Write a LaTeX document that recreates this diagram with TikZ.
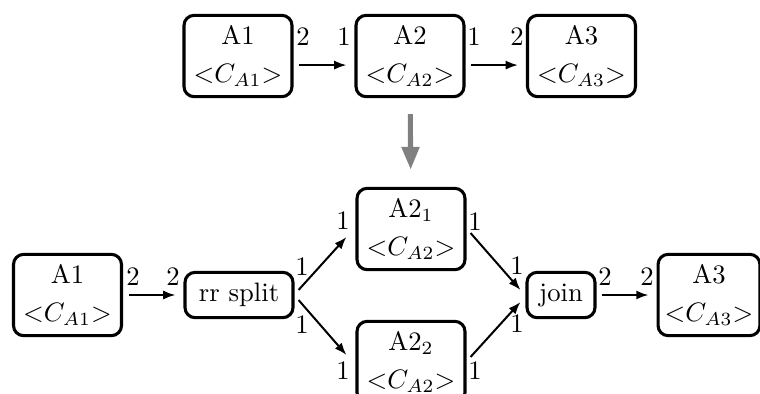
\documentclass[tikz,border=0pt]{standalone}
\usetikzlibrary{arrows.meta}
\begin{document}
\begin{tikzpicture}[x=0.375pt,y=-0.375pt,
  box/.style={draw,line width=1.15pt,rounded corners=3.8pt,align=center,
    minimum width=40.5pt,minimum height=30.5pt,inner sep=0pt},
  sbox/.style={draw,line width=1.15pt,rounded corners=3.8pt,
    minimum height=17pt,inner sep=0pt},
  lbl/.style={inner sep=0pt},
  conn/.style={line width=0.75pt,-{Latex[length=4.6pt,width=3.4pt]},
    shorten <=2.2pt,shorten >=3pt},
  bigarrow/.style={draw=gray,line width=1.9pt,
    -{Triangle[width=6.4pt,length=8.6pt]},shorten <=6pt,shorten >=6.4pt}]
\useasboundingbox (0,0) rectangle (760,394);
% top row
\node[box] (tA1) at (238,56) {A1\\[2.2pt]$<$$C_{A1}$$>$};
\node[box] (tA2) at (410,56) {A2\\[2.2pt]$<$$C_{A2}$$>$};
\node[box] (tA3) at (581.5,56) {A3\\[2.2pt]$<$$C_{A3}$$>$};
\draw[conn] ([yshift=-3.4pt]tA1.east) -- ([yshift=-3.4pt]tA2.west);
\draw[conn] ([yshift=-3.4pt]tA2.east) -- ([yshift=-3.4pt]tA3.west);
\node[lbl] (l1) at (303,37) {2};
\node[lbl] (l2) at (344,37) {1};
\node[lbl] (l3) at (474,37) {1};
\node[lbl] (l4) at (517,37) {2};
% bottom row
\node[box] (bA1) at (67.5,295) {A1\\[2.2pt]$<$$C_{A1}$$>$};
\node[sbox,minimum width=40.5pt] (split) at (239,295) {rr split};
\node[box] (bA21) at (411,229) {A2$_1$\\[2.2pt]$<$$C_{A2}$$>$};
\node[box] (bA22) at (411,362) {A2$_2$\\[2.2pt]$<$$C_{A2}$$>$};
\node[sbox,minimum width=25.5pt] (join) at (561,295) {join};
\node[box,minimum width=38.2pt] (bA3) at (709,295) {A3\\[2.2pt]$<$$C_{A3}$$>$};
% gray transformation arrow
\draw[bigarrow] (tA2) -- (bA21);
% connectors
\draw[conn] (bA1.east) -- (split.west);
\draw[conn,shorten <=0pt,shorten >=0pt] ([shift={(4,-5)}]split.east) -- ([shift={(-9,8)}]bA21.west);
\draw[conn,shorten <=0pt,shorten >=0pt] ([shift={(4,5)}]split.east) -- ([shift={(-9,-7)}]bA22.west);
\draw[conn,shorten <=0pt,shorten >=0pt] ([shift={(4,4)}]bA21.east) -- ([shift={(-5,-5)}]join.west);
\draw[conn,shorten <=0pt,shorten >=0pt] ([shift={(4,-5)}]bA22.east) -- ([shift={(-5,7)}]join.west);
\draw[conn] (join.east) -- (bA3.west);
% port labels
\node[lbl] (m1) at (133,277) {2};
\node[lbl] (m2) at (173,277) {2};
\node[lbl] (m3) at (302,267) {1};
\node[lbl] (m4) at (302,325) {1};
\node[lbl] (m5) at (343,221) {1};
\node[lbl] (m6) at (343,371) {1};
\node[lbl] (m7) at (475,222) {1};
\node[lbl] (m8) at (475,371) {1};
\node[lbl] (m9) at (517,266) {1};
\node[lbl] (m10) at (517,324) {1};
\node[lbl] (m11) at (605,277) {2};
\node[lbl] (m12) at (647,277) {2};
\end{tikzpicture}
\end{document}
